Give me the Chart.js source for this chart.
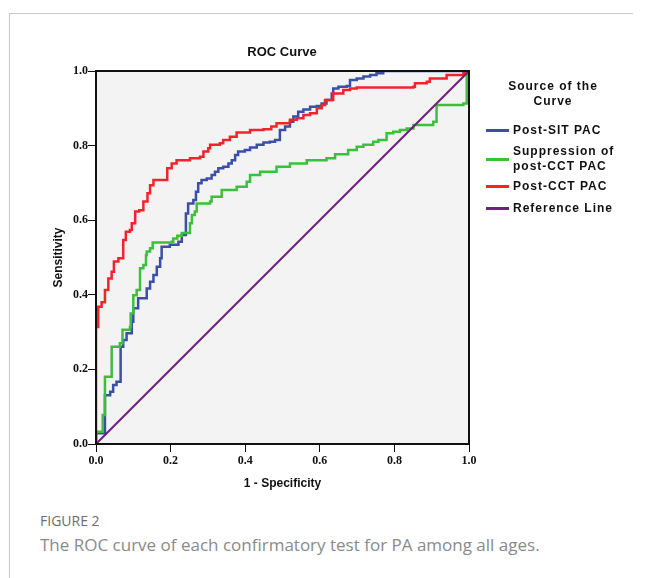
<!DOCTYPE html>
<html>
<head>
<meta charset="utf-8">
<script src="https://cdn.jsdelivr.net/npm/chart.js@4.4.0/dist/chart.umd.min.js"></script>
<style>
    body { margin: 0; background: #fff; }
    #page { position: relative; width: 646px; height: 578px; overflow: hidden; background: #fff; }
    #frame { position: absolute; left: 9px; top: 13px; width: 623px; height: 580px;
             border-top: 1px solid #c9c9c9; border-left: 1px solid #c9c9c9; }
    #chartBox { position: absolute; left: 0; top: 0; width: 646px; height: 500px; }
    #title { position: absolute; left: 182px; width: 200px; top: 44px; text-align: center;
             font: bold 13px "Liberation Sans", Arial, sans-serif; color: #111; }
    #legend { position: absolute; left: 486px; top: 79px; width: 150px;
              font: bold 12px "Liberation Sans", Arial, sans-serif; color: #111; letter-spacing: 1px; }
    #legendTitle { text-align: center; width: 134px; line-height: 15px; white-space: pre-line; }
    .item { display: flex; align-items: center; line-height: 15px; }
    .swatch { width: 23px; height: 3px; margin-right: 4px; flex: none; }
    .label { white-space: pre-line; }
    #figLabel { position: absolute; left: 40px; top: 511px; font: 14px "Open Sans", sans-serif; color: #6e6e6e; }
    #caption { position: absolute; left: 40px; top: 533px; font: 17px "Open Sans", sans-serif; color: #8a8a8a; }
</style>
</head>
<body>
<div id="page">
    <div id="frame"></div>
    <div id="chartBox"><canvas id="rocChart" width="646" height="500"></canvas></div>
    <div id="title">ROC Curve</div>
    <div id="legend">
        <div id="legendTitle">Source of the
Curve</div>
        <div id="legendItems"></div>
    </div>
    <div id="figLabel">FIGURE 2</div>
    <div id="caption">The ROC curve of each confirmatory test for PA among all ages.</div>
</div>
<script>
// [1 - specificity, sensitivity]
const postSitPac = [
    [0, 0], [0, 0.029], [0.024, 0.046], [0.024, 0.131], [0.038, 0.14], [0.046, 0.158], [0.055, 0.167],
    [0.066, 0.261], [0.073, 0.279], [0.082, 0.297], [0.096, 0.328], [0.1, 0.364], [0.113, 0.391],
    [0.136, 0.417], [0.145, 0.435], [0.154, 0.453], [0.163, 0.475], [0.172, 0.498], [0.176, 0.529],
    [0.198, 0.534], [0.221, 0.542], [0.23, 0.56], [0.241, 0.618], [0.247, 0.645], [0.261, 0.654],
    [0.268, 0.676], [0.274, 0.699], [0.283, 0.708], [0.297, 0.712], [0.31, 0.721], [0.319, 0.73],
    [0.328, 0.739], [0.341, 0.743], [0.355, 0.752], [0.364, 0.761], [0.373, 0.775], [0.381, 0.784],
    [0.399, 0.788], [0.413, 0.795], [0.431, 0.802], [0.449, 0.808], [0.466, 0.81], [0.48, 0.815],
    [0.493, 0.842], [0.507, 0.851], [0.52, 0.864], [0.529, 0.878], [0.542, 0.891], [0.556, 0.897],
    [0.574, 0.904], [0.592, 0.906], [0.605, 0.913], [0.618, 0.922], [0.632, 0.94], [0.636, 0.953],
    [0.65, 0.958], [0.672, 0.96], [0.681, 0.976], [0.699, 0.98], [0.717, 0.985], [0.735, 0.989],
    [0.752, 0.994], [0.77, 1], [1, 1]
];
const suppressionPostCctPac = [
    [0, 0], [0, 0.033], [0.018, 0.04], [0.018, 0.078], [0.024, 0.09], [0.024, 0.18], [0.042, 0.183],
    [0.042, 0.261], [0.064, 0.27], [0.071, 0.306], [0.091, 0.314], [0.093, 0.35], [0.1, 0.399],
    [0.109, 0.413], [0.118, 0.471], [0.127, 0.48], [0.134, 0.507], [0.136, 0.516], [0.145, 0.525],
    [0.152, 0.54], [0.203, 0.542], [0.207, 0.551], [0.218, 0.558], [0.23, 0.566], [0.252, 0.592],
    [0.257, 0.614], [0.265, 0.623], [0.27, 0.645], [0.306, 0.65], [0.31, 0.663], [0.337, 0.681],
    [0.377, 0.69], [0.404, 0.703], [0.413, 0.721], [0.44, 0.73], [0.484, 0.743], [0.52, 0.752],
    [0.565, 0.761], [0.618, 0.766], [0.641, 0.777], [0.676, 0.788], [0.699, 0.797], [0.717, 0.802],
    [0.743, 0.81], [0.757, 0.815], [0.779, 0.833], [0.797, 0.837], [0.815, 0.842], [0.833, 0.846],
    [0.851, 0.855], [0.904, 0.864], [0.913, 0.909], [0.985, 0.913], [0.994, 0.994], [1, 1]
];
const postCctPac = [
    [0, 0], [0, 0.314], [0.006, 0.368], [0.015, 0.38], [0.024, 0.413], [0.033, 0.444], [0.042, 0.462],
    [0.048, 0.489], [0.06, 0.498], [0.073, 0.52], [0.073, 0.547], [0.08, 0.569], [0.091, 0.574],
    [0.096, 0.592], [0.105, 0.623], [0.116, 0.627], [0.127, 0.65], [0.138, 0.672], [0.145, 0.694],
    [0.154, 0.708], [0.189, 0.708], [0.191, 0.739], [0.203, 0.752], [0.216, 0.761], [0.252, 0.766],
    [0.279, 0.77], [0.288, 0.784], [0.301, 0.793], [0.306, 0.802], [0.332, 0.806], [0.341, 0.815],
    [0.359, 0.824], [0.377, 0.835], [0.413, 0.842], [0.449, 0.844], [0.47, 0.851], [0.484, 0.86],
    [0.52, 0.869], [0.538, 0.873], [0.556, 0.882], [0.574, 0.887], [0.592, 0.9], [0.605, 0.909],
    [0.614, 0.922], [0.636, 0.94], [0.663, 0.949], [0.681, 0.953], [0.699, 0.956], [0.851, 0.958],
    [0.855, 0.967], [0.887, 0.971], [0.895, 0.98], [0.94, 0.989], [0.985, 0.994], [0.994, 1], [1, 1]
];
const referenceLine = [[0, 0], [1, 1]];

const seriesLabels = ['Post-SIT PAC', 'Suppression of\npost-CCT PAC', 'Post-CCT PAC', 'Reference Line'];
const seriesColors = ['#3b4fa6', '#3cbf3c', '#f2242b', '#6f1f7c'];
const axisTicks = [0, 0.2, 0.4, 0.6, 0.8, 1.0];

const toPoints = arr => arr.map(p => ({ x: p[0], y: p[1] }));

// plot background + closed black box
const plotBox = {
    id: 'plotBox',
    beforeDatasetsDraw(chart) {
        const { ctx, chartArea: a } = chart;
        ctx.save();
        ctx.fillStyle = '#f3f3f3';
        ctx.fillRect(a.left, a.top, a.right - a.left, a.bottom - a.top);
        ctx.restore();
    },
    afterDatasetsDraw(chart) {
        const { ctx, chartArea: a } = chart;
        ctx.save();
        ctx.strokeStyle = '#111';
        ctx.lineWidth = 2;
        ctx.strokeRect(a.left, a.top, a.right - a.left, a.bottom - a.top);
        ctx.restore();
    }
};

const tickFont = { family: '"Liberation Serif", "Times New Roman", serif', size: 12, weight: 'bold' };
const titleFont = { family: '"Liberation Sans", Arial, sans-serif', size: 12, weight: 'bold' };

const allSeries = [postSitPac, suppressionPostCctPac, postCctPac, referenceLine];

new Chart(document.getElementById('rocChart'), {
    type: 'scatter',
    data: {
        datasets: allSeries.map((s, i) => ({
            label: seriesLabels[i],
            data: toPoints(s),
            showLine: true,
            borderColor: seriesColors[i],
            backgroundColor: seriesColors[i],
            borderWidth: i === 3 ? 2 : 2.5,
            pointRadius: 0,
            stepped: i === 3 ? false : 'before',
            order: 3 - i
        }))
    },
    options: {
        responsive: false,
        animation: false,
        layout: { padding: { left: 40, right: 177, top: 71, bottom: 0 } },
        plugins: { legend: { display: false }, tooltip: { enabled: false } },
        scales: {
            x: {
                type: 'linear', min: 0, max: 1,
                afterBuildTicks: scale => { scale.ticks = axisTicks.map(v => ({ value: v })); },
                afterFit: scale => { scale.height = 56; },
                ticks: { callback: v => v.toFixed(1), font: tickFont, color: '#111', padding: 2, maxRotation: 0 },
                grid: { drawOnChartArea: false, drawTicks: true, tickLength: 8, color: '#111' },
                border: { color: '#111', width: 2 },
                title: { display: true, text: '1 - Specificity', font: titleFont, color: '#111', padding: { top: 0, bottom: 9 } }
            },
            y: {
                type: 'linear', min: 0, max: 1,
                afterBuildTicks: scale => { scale.ticks = axisTicks.map(v => ({ value: v })); },
                afterFit: scale => { scale.width = 56; },
                ticks: { callback: v => v.toFixed(1), font: tickFont, color: '#111', padding: 0 },
                grid: { drawOnChartArea: false, drawTicks: true, tickLength: 8, color: '#111' },
                border: { color: '#111', width: 2 },
                title: { display: true, text: 'Sensitivity', font: titleFont, color: '#111', padding: { top: 11, bottom: 0 } }
            }
        }
    },
    plugins: [plotBox]
});

// legend (two-line label needs html)
const gaps = [44, 6, 5, 7];
const legendItems = document.getElementById('legendItems');
seriesLabels.forEach((lbl, i) => {
    const row = document.createElement('div');
    row.className = 'item';
    row.style.marginTop = gaps[i] + 'px';
    row.innerHTML = `<span class="swatch" style="background:${seriesColors[i]}"></span><span class="label">${lbl}</span>`;
    legendItems.appendChild(row);
});
document.getElementById('legendItems').style.marginTop = '-30px';
</script>
</body>
</html>
